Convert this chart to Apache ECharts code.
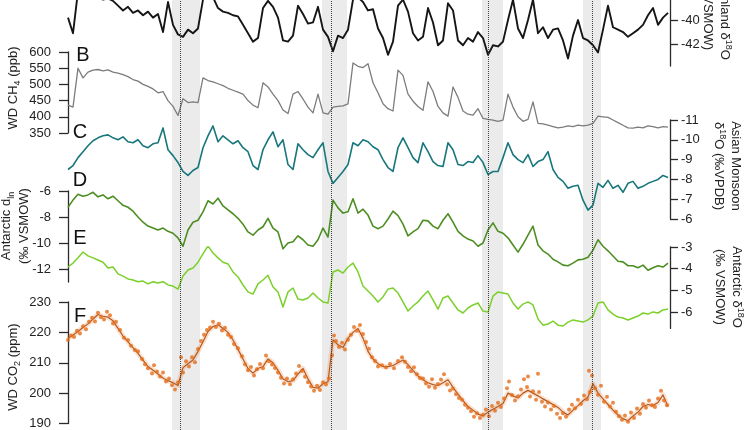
<!DOCTYPE html>
<html>
<head>
<meta charset="utf-8">
<script src="https://cdn.jsdelivr.net/npm/echarts@6/dist/echarts.min.js"></script>
<style>
  html, body { margin: 0; background: #fff; }
  #chart { width: 750px; height: 430px; }
</style>
</head>
<body>
<div id="chart"></div>
<script>
// sample positions along the (unlabelled) common time axis, one every 5 units
var t = Array.from({ length: 121 }, function (_, i) { return i * 5; });

// shaded stadials and the dotted event lines (same time units)
var bands = [[104, 132], [254, 279], [414, 435], [515, 533]];
var events = [112, 263.5, 420, 524];

// A  Greenland d18O (permil VSMOW)
var greenland = [
  -39.8, -41.1, -37.6, -37.6, -37.8, -37.9, -38.1, -38.3, -38.2, -38.4,
  -38.8, -39.2, -38.9, -39.4, -39.2, -39.6, -39.3, -39.8, -39.5, -41.0,
  -38.5, -40.4, -41.2, -41.4, -40.8, -41.1, -40.7, -38.3, -37.8, -38.1,
  -39.0, -39.3, -39.4, -39.6, -39.7, -40.4, -41.1, -41.8, -41.5, -39.0,
  -38.4, -38.9, -39.8, -41.7, -41.8, -41.3, -38.8, -39.5, -40.3, -40.2,
  -38.9, -40.8, -41.4, -42.6, -41.3, -41.5, -40.8, -38.3, -38.1, -38.5,
  -39.2, -39.1, -40.7, -41.5, -42.9, -41.8, -38.8, -38.3, -39.3, -41.1,
  -41.7, -41.4, -39.0, -40.2, -42.1, -41.7, -38.6, -39.2, -41.7, -42.1,
  -41.5, -41.8, -41.0, -41.5, -42.9, -42.1, -42.2, -41.8, -40.0, -38.3,
  -40.7, -41.5, -40.0, -38.3, -41.1, -40.6, -41.5, -40.8, -40.7, -41.7,
  -43.2, -41.3, -40.0, -41.5, -41.7, -42.1, -42.7, -40.8, -38.8, -40.6,
  -40.8, -41.0, -41.4, -41.1, -40.8, -40.4, -39.6, -39.0, -40.4, -39.8,
  -39.4
];

// B  WD CH4 (ppb)
var ch4 = [
  436, 430, 550, 520, 538, 544, 546, 542, 545, 538,
  535, 530, 524, 515, 510, 500, 494, 486, 474, 478,
  450, 432, 404, 456, 444, 446, 444, 520, 512, 508,
  502, 496, 488, 482, 476, 470, 450, 436, 428, 505,
  492, 470, 450, 421, 410, 470, 478, 455, 430, 412,
  470, 412, 408, 430, 432, 434, 440, 566, 556, 552,
  564, 505, 474, 440, 425, 418, 544, 528, 470, 448,
  432, 420, 508, 478, 432, 412, 402, 492, 460, 418,
  408, 405, 425, 395, 392, 390, 386, 390, 470, 430,
  400, 386, 392, 446, 380, 378, 374, 370, 366, 368,
  372, 370, 374, 372, 374, 380, 402, 400, 398, 390,
  382, 374, 366, 365, 368, 366, 372, 370, 366, 370,
  368
];

// C  Asian Monsoon d18O (permil VPDB)
var monsoon = [
  -8.5, -8.7, -9.1, -9.4, -9.7, -9.95, -10.1, -10.2, -10.25, -10.1,
  -10.0, -10.15, -9.9, -9.85, -10.0, -9.7, -9.6, -9.8, -9.85, -10.6,
  -9.5, -9.2, -8.85, -8.4, -8.2, -8.45, -8.6, -9.6, -10.2, -10.7,
  -9.9, -10.2, -10.0, -9.8, -9.95, -9.6, -9.4, -8.7, -8.5, -9.5,
  -10.0, -10.4, -9.65, -10.0, -8.75, -8.5, -9.8, -9.5, -9.25, -9.1,
  -9.5, -9.85, -8.4, -7.8, -8.1, -8.4, -8.75, -9.85, -9.7, -10.0,
  -9.9, -9.65, -9.5, -9.0, -8.6, -8.4, -9.6, -10.1, -9.6, -9.1,
  -8.85, -9.85, -9.4, -8.9, -8.7, -8.65, -9.85, -9.5, -8.75, -8.7,
  -8.9, -8.85, -9.2, -8.85, -8.25, -8.4, -8.4, -9.1, -9.85, -9.25,
  -9.0, -8.85, -9.25, -8.65, -8.9, -9.0, -9.4, -8.5, -8.1, -7.9,
  -7.55, -7.65, -7.7, -6.95, -6.45, -6.7, -7.8, -7.6, -7.95, -7.55,
  -7.7, -7.35, -7.8, -7.9, -7.55, -7.65, -7.8, -7.9, -8.0, -8.2,
  -8.1
];

// D  Antarctic d_ln (permil VSMOW)
var dln = [
  -7.25, -6.7, -6.25, -6.4, -6.3, -6.1, -6.45, -6.3, -6.6, -6.4,
  -6.75, -7.1, -7.25, -7.55, -8.0, -8.4, -8.7, -8.85, -9.0, -8.85,
  -9.1, -9.25, -9.6, -10.25, -9.0, -8.4, -8.25, -7.6, -6.75, -7.0,
  -6.55, -7.15, -7.45, -7.75, -8.1, -8.55, -9.15, -9.4, -9.0, -8.75,
  -8.1, -8.85, -9.15, -10.45, -10.0, -9.9, -9.45, -9.75, -10.15, -10.25,
  -9.75, -8.85, -9.55, -6.7, -7.3, -7.7, -7.6, -6.6, -7.7, -7.4,
  -7.85, -8.7, -8.9, -8.7, -8.15, -7.55, -7.9, -8.55, -9.45, -9.15,
  -8.9, -8.25, -8.3, -8.7, -8.9, -8.25, -7.75, -8.4, -9.1, -9.45,
  -9.7, -9.85, -10.25, -10.0, -9.0, -8.45, -9.1, -9.25, -9.6, -10.15,
  -10.7, -10.1, -9.4, -8.7, -10.15, -10.6, -10.85, -11.25, -11.45, -11.7,
  -11.75, -11.55, -11.3, -11.25, -11.1, -10.55, -9.75, -10.25, -10.6, -11.0,
  -11.4, -11.45, -11.75, -11.75, -11.9, -11.7, -12.1, -11.9, -11.75, -11.85,
  -11.55
];

// E  Antarctic d18O (permil VSMOW)
var antD18O = [
  -3.92, -3.74, -3.5, -3.23, -3.41, -3.5, -3.6, -3.7, -3.97, -3.92,
  -4.24, -4.34, -4.47, -4.52, -4.6, -4.57, -4.7, -4.6, -4.66, -4.6,
  -4.75, -4.8, -4.94, -4.34, -4.06, -3.97, -3.7, -3.32, -2.95, -3.28,
  -3.5, -3.7, -3.78, -4.15, -4.38, -4.75, -5.07, -5.17, -4.7, -4.52,
  -4.3, -4.84, -5.07, -5.76, -5.07, -4.89, -5.4, -5.44, -5.35, -5.12,
  -5.35, -5.53, -5.58, -4.15, -4.06, -4.2, -3.92, -3.74, -4.15, -4.8,
  -5.03, -5.26, -5.53, -5.3, -4.94, -4.89, -5.12, -5.53, -5.95, -5.72,
  -5.53, -5.26, -5.03, -5.44, -5.86, -5.35, -5.26, -5.58, -5.9, -6.04,
  -5.81, -5.67, -5.58, -5.95, -6.0, -5.26, -5.07, -5.12, -5.17, -5.58,
  -5.86, -5.63, -5.53, -5.67, -6.32, -6.6, -6.55, -6.41, -6.6, -6.64,
  -6.46, -6.36, -6.41, -6.46, -6.36, -6.18, -5.58, -5.53, -5.9, -6.09,
  -6.23, -6.27, -6.36, -6.27, -6.18, -6.04, -6.09, -5.99, -6.04, -5.9,
  -5.86
];

// F  WD CO2 (ppm), smoothed curve
var co2 = [
  218.1, 219.1, 220.3, 221.6, 222.8, 224.4, 225.9, 225.3, 225.0, 223.8,
  221.3, 218.8, 216.9, 215.0, 213.1, 210.9, 208.75, 207.5, 206.3, 205.0,
  204.1, 203.4, 202.5, 208.4, 209.7, 210.9, 213.75, 216.9, 220.3, 221.9,
  222.5, 221.25, 220.0, 217.5, 214.4, 211.25, 208.1, 206.6, 208.1, 208.75,
  211.25, 210.0, 207.5, 204.7, 203.75, 204.1, 206.25, 208.1, 204.7, 201.9,
  201.6, 203.1, 203.75, 217.5, 215.9, 215.0, 218.1, 220.0, 221.25, 218.1,
  213.75, 211.25, 209.7, 208.75, 208.75, 209.1, 210.0, 210.9, 209.4, 207.5,
  205.6, 204.4, 203.4, 202.8, 202.5, 203.4, 204.4, 201.9, 199.7, 197.5,
  195.6, 194.4, 193.1, 192.5, 193.75, 194.7, 195.6, 196.6, 200.0, 199.1,
  198.4, 200.0, 200.9, 200.0, 199.1, 198.1, 197.2, 196.25, 195.3, 193.75,
  192.8, 194.4, 195.9, 197.5, 198.75, 203.1, 200.0, 198.1, 196.25, 194.4,
  192.8, 191.6, 190.9, 192.5, 193.75, 195.6, 196.25, 195.9, 196.9, 199.4,
  195.6
];

// F  WD CO2 individual measurements [time, ppm]
var co2Points = [
  [0,217.5],[3,219],[6,218.5],[9,220.5],[12,219.6],[15,222],[18,221],[21,223.5],[24,224.8],[27,223.6],
  [30,226.5],[33,225],[36,224.2],[39,226.8],[42,225.6],[45,222.9],[48,223.5],[52,220.8],[56,218.2],[60,217.5],
  [63,215.6],[67,214.2],[70,213.8],[74,211.2],[77,209.5],[80,208.2],[84,206.5],[86,209.2],[89,207.1],[92,205.5],
  [95,206.8],[98,203.8],[101,204.8],[104,202.6],[107,201.2],[110,203.6],[113,211.8],[115,206.8],[118,210.5],[121,208.8],
  [124,211.8],[127,210.2],[130,214.5],[133,217.2],[136,219.2],[139,220.8],[142,221.6],[145,223.5],[148,221.8],[151,222.8],
  [154,220.6],[157,221.5],[160,219.2],[163,218.5],[166,216.2],[170,214.8],[174,212.1],[177,209.5],[180,207.5],[183,208.6],
  [186,205.8],[189,207.9],[192,209.6],[195,208.2],[198,212.4],[201,210.5],[204,209.4],[207,208.3],[210,206.8],[213,205.1],
  [216,203.2],[219,204.8],[222,202.9],[225,204.6],[228,206.5],[231,208.9],[234,207.3],[237,205.4],[240,203.6],[243,202.2],
  [246,200.8],[249,202.4],[252,201.0],[255,203.6],[258,202.8],[261,204.8],[264,212.5],[266,219.0],[268,217.2],[271,215.2],
  [274,216.6],[277,214.4],[280,217.6],[283,219.2],[286,221.8],[289,220.5],[292,222.4],[295,219.5],[298,216.8],[301,214.6],
  [304,211.8],[307,210.6],[310,208.8],[314,209.2],[318,208.4],[322,209.6],[326,208.2],[330,210.6],[334,211.8],[337,210.3],
  [340,208.6],[343,207.2],[346,208.5],[349,206.2],[352,205.0],[355,204.8],[358,203.2],[361,202.1],[364,204.6],[367,201.8],
  [370,203.0],[373,204.5],[376,206.2],[379,202.8],[382,200.9],[385,201.5],[388,199.6],[391,198.4],[394,197.8],[397,196.2],
  [400,195.2],[403,194.0],[406,192.2],[409,193.4],[412,191.8],[415,192.9],[418,194.6],[421,192.4],[424,195.8],[427,194.2],
  [430,196.8],[433,195.4],[436,198.2],[439,201.6],[441,203.8],[444,199.4],[447,197.6],[450,199.0],[453,201.2],[456,204.6],
  [459,202.0],[460,205.5],[462,198.9],[465,200.6],[468,197.8],[470,206.4],[471,200.4],[474,197.2],[477,195.6],[480,196.9],
  [483,194.6],[486,195.8],[489,193.2],[492,191.8],[495,193.4],[498,192.2],[501,194.6],[504,196.2],[507,195.0],[510,197.8],
  [513,196.4],[516,199.2],[519,198.0],[521,207.4],[522,200.4],[524,205.8],[527,201.6],[530,199.5],[533,202.4],[536,197.2],
  [539,198.8],[542,195.6],[545,196.8],[548,193.9],[551,192.4],[554,191.2],[557,192.6],[560,190.6],[563,193.6],[566,191.8],
  [569,194.9],[572,193.2],[575,196.4],[578,195.2],[581,197.6],[584,196.0],[587,195.4],[590,198.2],[593,200.8],[596,197.6],
  [599,196.0]
];

var FONT = '"Liberation Sans", Arial, Helvetica, sans-serif';
var AXIS = '#2b2b2b';

function pairs(vals) {
  return vals.map(function (v, i) { return [t[i], v]; });
}

function yAxisFor(grid, side, min, max, ticks, extra) {
  var ax = {
    type: 'value', gridIndex: grid, position: side, min: min, max: max,
    axisLine: { show: true, onZero: false, lineStyle: { color: AXIS, width: 1.3 } },
    axisTick: { show: true, length: side === 'left' ? 9 : 8, customValues: ticks,
                lineStyle: { color: AXIS, width: 1.3 } },
    axisLabel: { show: true, customValues: ticks, color: '#222', fontSize: 13, fontFamily: FONT,
                 margin: side === 'left' ? 17 : 11 },
    splitLine: { show: false }
  };
  return Object.assign(ax, extra || {});
}

var grids = [
  { left: 68, right: 80, top: 0, height: 430 },     // shading
  { left: 68, right: 80, top: 0, height: 66 },      // A
  { left: 68, right: 80, top: 52, height: 81 },     // B
  { left: 68, right: 80, top: 120, height: 99 },    // C
  { left: 68, right: 80, top: 191, height: 91 },    // D
  { left: 68, right: 80, top: 247, height: 81.4 },  // E
  { left: 68, right: 80, top: 302, height: 128 }    // F
];

var xAxes = grids.map(function (g, i) {
  return { type: 'value', gridIndex: i, min: 0, max: 602, show: false };
});

var yAxes = [
  { type: 'value', gridIndex: 0, min: 0, max: 1, show: false },
  yAxisFor(1, 'right', -43.83, -38.33, [-42, -40]),
  yAxisFor(2, 'left', 350, 600, [350, 400, 450, 500, 550, 600]),
  yAxisFor(3, 'right', -11, -6, [-11, -10, -9, -8, -7, -6], { inverse: true }),
  yAxisFor(4, 'left', -13, -6, [-12, -10, -8, -6]),
  yAxisFor(5, 'right', -6.75, -3, [-6, -5, -4, -3]),
  yAxisFor(6, 'left', 190, 230, [190, 200, 210, 220, 230])
];

function line(idx, vals, color, width) {
  return {
    type: 'line', xAxisIndex: idx, yAxisIndex: idx, data: pairs(vals),
    showSymbol: false, symbol: 'none', clip: true, z: 3,
    lineStyle: { color: color, width: width, join: 'round' }
  };
}

var titleStyle = {
  fill: '#222', fontSize: 13, fontFamily: FONT, lineHeight: 17,
  align: 'center', verticalAlign: 'middle',
  rich: {
    sub: { fontSize: 9, fontFamily: FONT, fill: '#222', verticalAlign: 'bottom', lineHeight: 19 },
    sup: { fontSize: 9, fontFamily: FONT, fill: '#222', verticalAlign: 'top', lineHeight: 17 }
  }
};

function title(x, y, rot, text) {
  return {
    type: 'text', x: x, y: y, rotation: rot, silent: true,
    style: Object.assign({}, titleStyle, { text: text })
  };
}

function letter(x, y, s) {
  return {
    type: 'text', x: x, y: y, silent: true,
    style: { text: s, fill: '#111', fontSize: 20, fontFamily: FONT,
             align: 'center', verticalAlign: 'middle' }
  };
}

var option = {
  animation: false,
  backgroundColor: '#fff',
  grid: grids,
  xAxis: xAxes,
  yAxis: yAxes,
  graphic: [
    title(13, 88, Math.PI / 2, 'WD CH{sub|4} (ppb)'),
    title(15, 226, Math.PI / 2, 'Antarctic d{sub|ln}\n(‰ VSMOW)'),
    title(13, 367, Math.PI / 2, 'WD CO{sub|2} (ppm)'),
    title(716, 14, -Math.PI / 2, 'Greenland δ{sup|18}O\n(‰VSMOW)'),
    title(727, 166, -Math.PI / 2, 'Asian Monsoon\nδ{sup|18}O (‰VPDB)'),
    title(728, 287, -Math.PI / 2, 'Antarctic δ{sup|18}O\n(‰ VSMOW)'),
    letter(83, 55, 'B'),
    letter(80, 132, 'C'),
    letter(80, 180, 'D'),
    letter(80, 238, 'E'),
    letter(80, 316, 'F')
  ],
  series: [
    {
      type: 'line', xAxisIndex: 0, yAxisIndex: 0, data: [], z: 1, silent: true,
      markArea: {
        silent: true,
        itemStyle: { color: '#ebebeb' },
        data: bands.map(function (b) { return [{ xAxis: b[0] }, { xAxis: b[1] }]; })
      },
      markLine: {
        silent: true, symbol: ['none', 'none'], label: { show: false },
        lineStyle: { color: '#444', type: 'dotted', width: 1 },
        data: events.map(function (e) { return { xAxis: e }; })
      }
    },
    line(1, greenland, '#151515', 1.9),
    line(2, ch4, '#7c7c7c', 1.3),
    line(3, monsoon, '#17777c', 1.6),
    line(4, dln, '#4d8e22', 1.6),
    line(5, antD18O, '#7bd02a', 1.5),
    Object.assign(line(6, co2, 'rgba(232,120,40,0.22)', 5), { z: 2 }),
    line(6, co2, '#b4581f', 1.2),
    {
      type: 'scatter', xAxisIndex: 6, yAxisIndex: 6, data: co2Points,
      symbol: 'circle', symbolSize: 4, z: 4,
      itemStyle: { color: '#e36d1a' }
    }
  ]
};

var chart = echarts.init(document.getElementById('chart'), null, { renderer: 'canvas' });
chart.setOption(option);
</script>
</body>
</html>
